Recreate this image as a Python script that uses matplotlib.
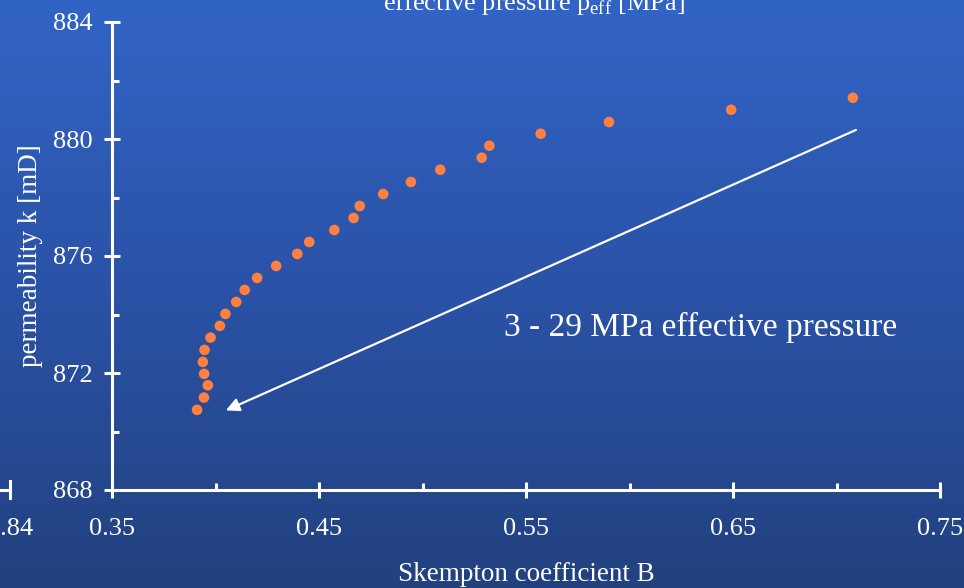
import numpy as np
import matplotlib
matplotlib.use('Agg')
import matplotlib.pyplot as plt
from matplotlib.colors import LinearSegmentedColormap
from matplotlib.lines import Line2D

plt.rcParams['font.family'] = ['Liberation Serif', 'DejaVu Serif']
plt.rcParams['mathtext.fontset'] = 'custom'
plt.rcParams['mathtext.rm'] = 'Liberation Serif'

### Data (Skempton B vs. permeability)
skempton_b = [0.3911, 0.3944, 0.3963, 0.3945, 0.3939, 0.3947, 0.3976, 0.4021,
              0.4048, 0.4100, 0.4141, 0.4201, 0.4293, 0.4395, 0.4453, 0.4574,
              0.4667, 0.4697, 0.4810, 0.4944, 0.5086, 0.5286, 0.5323, 0.5571,
              0.5901, 0.6491, 0.7079]
permeability = [870.74, 871.16, 871.58, 871.97, 872.38, 872.79, 873.21, 873.61,
                874.02, 874.43, 874.84, 875.25, 875.66, 876.07, 876.48, 876.89,
                877.30, 877.71, 878.12, 878.53, 878.95, 879.36, 879.77, 880.18,
                880.58, 881.00, 881.41]

arrow_start = (0.7094, 880.31)
arrow_end = (0.4050, 870.72)
arrow_text = '3 - 29 MPa effective pressure'

x_major = [0.35, 0.45, 0.55, 0.65, 0.75]
x_minor = [0.40, 0.50, 0.60, 0.70]
y_major = [868, 872, 876, 880, 884]
y_minor = [870, 874, 878, 882]

fig = plt.figure(figsize=(9.64, 5.88), dpi=100)

# gradient background
bg = fig.add_axes([0, 0, 1, 1], zorder=-10)
cmap = LinearSegmentedColormap.from_list('bg', ['#22417F', '#2A52A6', '#3264C6'])
bg.imshow(np.linspace(0, 1, 256).reshape(-1, 1), aspect='auto', cmap=cmap,
          extent=[0, 1, 0, 1], origin='lower')
bg.axis('off')

ax = fig.add_axes([112/964, 1 - 490/588, (940 - 112)/964, (490 - 22)/588])
ax.patch.set_alpha(0)

ax.scatter(skempton_b, permeability, s=58, color='#FF8040', edgecolors='none', zorder=3)
ax.annotate('', xy=arrow_end, xytext=arrow_start,
            arrowprops=dict(arrowstyle='-|>', color='white', lw=1.6, mutation_scale=20,
                            shrinkA=0, shrinkB=0))
ax.text(0.6345, 873.55, arrow_text, color='white', fontsize=24, ha='center', va='center')

ax.set_xlim(0.35, 0.75)
ax.set_ylim(868, 884)
ax.set_xticks(x_major)
ax.set_xticks(x_minor, minor=True)
ax.set_yticks(y_major)
ax.set_yticks(y_minor, minor=True)
ax.set_xticklabels(['%.2f' % v for v in x_major])
ax.set_yticklabels([str(v) for v in y_major])

for s in ['top', 'right']:
    ax.spines[s].set_visible(False)
for s in ['left', 'bottom']:
    ax.spines[s].set_color('white')
    ax.spines[s].set_linewidth(2.2)

ax.tick_params(which='major', direction='inout', length=12, width=2.2, colors='white',
               labelsize=19)
ax.tick_params(which='minor', direction='in', length=5, width=2.2, colors='white')
ax.tick_params(axis='x', which='major', pad=14)
ax.tick_params(axis='y', which='major', pad=8)

ax.set_xlabel('Skempton coefficient B', color='white', fontsize=19.5, labelpad=16)
ax.set_ylabel('permeability k [mD]', color='white', fontsize=19.5, labelpad=7)

# leftovers from the overlapping chart
y0 = 1 - 490/588
fig.add_artist(Line2D([0, 10/964], [y0, y0], color='white', lw=2.2))
fig.add_artist(Line2D([10/964, 10/964], [y0 - 8/588, y0 + 9/588], color='white', lw=2.2))
fig.text(10/964, 1 - 529/588, '0.84', color='white', fontsize=19, ha='center', va='center')
fig.text(534/964, 1 - 10/588, r'effective pressure p$_{\rm eff}$ [MPa]', color='white',
         fontsize=19, ha='center', va='baseline')

fig.savefig('out.png', dpi=100)
